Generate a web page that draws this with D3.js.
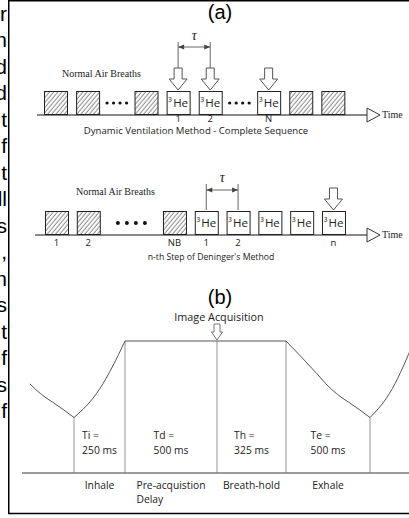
<!DOCTYPE html>
<html>
<head>
<meta charset="utf-8">
<script src="https://cdn.jsdelivr.net/npm/d3@7"></script>
<style>
  html, body { margin: 0; padding: 0; background: #fff; overflow: hidden; }
  svg { display: block; }
  .sans { font-family: "Open Sans", sans-serif; fill: #222; }
  .serif { font-family: "Liberation Serif", "Times New Roman", serif; fill: #222; }
  .big { font-family: "Liberation Sans", Arial, sans-serif; fill: #000; }
</style>
</head>
<body>
<div id="chart"></div>
<script>
// ---- data ----
const leftFragments = ["r", "n", "d", "d", "t", "f", "t", "ll", "s", ",", "n", "s", "t", "f", "s", "f"];
const panelLabels = ["(a)", "(b)"];

const seqComplete = ["air", "air", "dots", "air", "he", "he", "dots", "he", "air", "air"];
const seqCompleteLabels = ["", "", "", "", "1", "2", "", "N", "", ""];
const seqCompleteArrows = [4, 5, 7];
const seqCompleteTau = [4, 5];

const seqDeninger = ["air", "air", "dots", "air", "he", "he", "he", "he", "he"];
const seqDeningerLabels = ["1", "2", "", "NB", "1", "2", "", "", "n"];
const seqDeningerArrows = [8];
const seqDeningerTau = [4, 5];

const seqTitles = ["Dynamic Ventilation Method - Complete Sequence", "n-th Step of Deninger's Method"];
const breathsLabel = "Normal Air Breaths";

const phaseNames = [["Inhale"], ["Pre-acquistion", "Delay"], ["Breath-hold"], ["Exhale"]];
const phaseSymbols = ["Ti", "Td", "Th", "Te"];
const phaseMs = [250, 500, 325, 500];

// lung volume (0 = end exhale, 1 = full) against fraction of the phase
const inhaleT = [0, 0.37, 0.51, 0.75, 1];
const inhaleV = [0, 0.25, 0.38, 0.66, 1];
const exhaleT = [0, 0.37, 0.476, 0.55, 0.67, 0.76, 1];
const exhaleV = [1, 0.57, 0.44, 0.36, 0.255, 0.19, 0];

// ---- layout ----
const width = 409;
const height = 518;
const boxW = 23;
const boxH = 24;
const smallFont = 10.3;

const svg = d3.select("#chart")
  .append("svg")
  .attr("width", width)
  .attr("height", height);

const defs = svg.append("defs");
const hatch = defs.append("pattern")
  .attr("id", "hatch")
  .attr("patternUnits", "userSpaceOnUse")
  .attr("width", 3.2)
  .attr("height", 10)
  .attr("patternTransform", "rotate(40)");
hatch.append("line")
  .attr("x1", 1).attr("x2", 1).attr("y1", 0).attr("y2", 10)
  .attr("stroke", "#444")
  .attr("stroke-width", 0.7);

// frame + clipped text of the neighbouring column
svg.append("path")
  .attr("d", `M${width + 5},0.75 H8.75 V513.5 H${width + 5}`)
  .attr("fill", "none")
  .attr("stroke", "#000")
  .attr("stroke-width", 1.5);

const fragY = d3.scaleLinear().domain([0, leftFragments.length - 1]).range([21, 418]);
svg.selectAll(".frag")
  .data(leftFragments)
  .enter()
  .append("text")
  .attr("class", "big")
  .attr("x", 7)
  .attr("y", (d, i) => fragY(i))
  .attr("text-anchor", "end")
  .attr("font-size", 21)
  .text(d => d);

svg.selectAll(".panel")
  .data(panelLabels)
  .enter()
  .append("text")
  .attr("class", "big")
  .attr("x", 220)
  .attr("y", (d, i) => [19, 304][i])
  .attr("text-anchor", "middle")
  .attr("font-size", 20)
  .text(d => d);

function downArrow(cx, top, len, sw, hw, hl) {
  const p = d3.path();
  p.moveTo(cx - sw / 2, top);
  p.lineTo(cx + sw / 2, top);
  p.lineTo(cx + sw / 2, top + len - hl);
  p.lineTo(cx + hw / 2, top + len - hl);
  p.lineTo(cx, top + len);
  p.lineTo(cx - hw / 2, top + len - hl);
  p.lineTo(cx - sw / 2, top + len - hl);
  p.closePath();
  return p.toString();
}

// ---- (a) sequences ----
const rows = [
  { seq: seqComplete, labels: seqCompleteLabels, arrows: seqCompleteArrows, tau: seqCompleteTau,
    title: seqTitles[0], titleSize: 9.6, x0: 44, step: 32.1, dotsStep: 0.82, dotGap: 6.5, dotR: 1.6,
    base: 115, axisX0: 37, breathsX: 62, breathsY: 77, tauTop: 42, tauY: 47, tauTextY: 40,
    labelY: 122, titleX: 196, titleY: 134 },
  { seq: seqDeninger, labels: seqDeningerLabels, arrows: seqDeningerArrows, tau: seqDeningerTau,
    title: seqTitles[1], titleSize: 8.7, x0: 45, step: 31.8, dotsStep: 1.71, dotGap: 9, dotR: 2,
    base: 235, axisX0: 35, breathsX: 76, breathsY: 195, tauTop: 184, tauY: 190, tauTextY: 182,
    labelY: 246, titleX: 211, titleY: 260 }
];

rows.forEach(row => {
  const g = svg.append("g");
  const slot = d3.scaleLinear().domain([0, 1]).range([row.x0, row.x0 + row.step]);
  let u = 0;
  const items = row.seq.map((kind, i) => {
    const it = { kind, label: row.labels[i], u };
    u += kind === "dots" ? row.dotsStep : 1;
    return it;
  });
  items.forEach(it => {
    it.x = slot(it.u);
    it.cx = it.x + boxW / 2;
  });
  const top = row.base - boxH;

  // time axis
  g.append("line")
    .attr("x1", row.axisX0).attr("x2", 367)
    .attr("y1", row.base).attr("y2", row.base)
    .attr("stroke", "#888").attr("stroke-width", 2);
  g.append("path")
    .attr("d", `M367,${row.base - 7} L380,${row.base} L367,${row.base + 7} Z`)
    .attr("fill", "#fff").attr("stroke", "#333").attr("stroke-width", 1);
  g.append("text")
    .attr("class", "serif")
    .attr("x", 382).attr("y", row.base + 3)
    .attr("font-size", 10)
    .text("Time");

  const boxes = items.filter(d => d.kind !== "dots");
  g.selectAll(".box")
    .data(boxes)
    .enter()
    .append("rect")
    .attr("x", d => d.x + 0.5)
    .attr("y", top + 0.5)
    .attr("width", boxW)
    .attr("height", boxH - 1)
    .attr("fill", d => d.kind === "air" ? "url(#hatch)" : "#fff")
    .attr("stroke", "#222")
    .attr("stroke-width", 1);

  const he = g.selectAll(".he")
    .data(boxes.filter(d => d.kind === "he"))
    .enter()
    .append("text")
    .attr("class", "sans")
    .attr("x", d => d.x + 1.5)
    .attr("y", top + 16);
  he.append("tspan").attr("font-size", 7).attr("dy", -5).text("3");
  he.append("tspan").attr("font-size", 11.5).attr("dy", 5).attr("dx", 1).text("He");

  // dots between boxes
  items.forEach((it, i) => {
    if (it.kind !== "dots") return;
    const prevEnd = items[i - 1].x + boxW;
    const next = items[i + 1].x;
    const mid = (prevEnd + next) / 2;
    g.selectAll(null)
      .data(d3.range(4))
      .enter()
      .append("circle")
      .attr("cx", k => mid + (k - 1.5) * row.dotGap)
      .attr("cy", top + boxH / 2)
      .attr("r", row.dotR)
      .attr("fill", "#111");
  });

  g.selectAll(".lbl")
    .data(items.filter(d => d.label))
    .enter()
    .append("text")
    .attr("class", "sans")
    .attr("x", d => d.cx)
    .attr("y", row.labelY)
    .attr("text-anchor", "middle")
    .attr("font-size", 9.5)
    .text(d => d.label);

  g.append("text")
    .attr("class", "sans")
    .attr("x", row.titleX)
    .attr("y", row.titleY)
    .attr("text-anchor", "middle")
    .attr("font-size", row.titleSize)
    .text(row.title);

  g.append("text")
    .attr("class", "serif")
    .attr("x", row.breathsX)
    .attr("y", row.breathsY)
    .attr("font-size", 10)
    .text(breathsLabel);

  // acquisition arrows
  const arrowTop = top - 1 - 22;
  g.selectAll(".arr")
    .data(row.arrows.map(i => items[i]))
    .enter()
    .append("path")
    .attr("d", d => downArrow(d.cx, arrowTop, 22, 8, 18, 11))
    .attr("fill", "#fff")
    .attr("stroke", "#555")
    .attr("stroke-width", 1);

  // tau bracket
  const t0 = items[row.tau[0]].cx;
  const t1 = items[row.tau[1]].cx;
  const hasArrow = row.arrows.includes(row.tau[0]);
  const tauBottom = hasArrow ? arrowTop : top - 1;
  [t0, t1].forEach(tx => {
    g.append("line")
      .attr("x1", tx).attr("x2", tx)
      .attr("y1", row.tauTop).attr("y2", tauBottom)
      .attr("stroke", "#666").attr("stroke-width", 1);
  });
  g.append("line")
    .attr("x1", t0).attr("x2", t1)
    .attr("y1", row.tauY).attr("y2", row.tauY)
    .attr("stroke", "#666").attr("stroke-width", 1);
  g.append("path")
    .attr("d", `M${t0},${row.tauY} l6,-2.5 v5 Z M${t1},${row.tauY} l-6,-2.5 v5 Z`)
    .attr("fill", "#444");
  g.append("text")
    .attr("class", "serif")
    .attr("x", (t0 + t1) / 2)
    .attr("y", row.tauTextY)
    .attr("text-anchor", "middle")
    .attr("font-size", 14)
    .attr("font-style", "italic")
    .text("τ");
});

// ---- (b) breathing manoeuvre ----
const bounds = [0];
phaseMs.forEach(ms => bounds.push(bounds[bounds.length - 1] + ms));
const total = bounds[bounds.length - 1];

const x = d3.scaleLinear()
  .domain([-phaseMs[3], ...bounds, total + phaseMs[0]])
  .range([-10, 74, 125, 217, 286, 370, 414]);
const y = d3.scaleLinear().domain([0, 1]).range([417.5, 341]);
const baseY = 473;

const pts = (T, V, t0, dur) => T.map((f, i) => ({ t: t0 + f * dur, v: V[i] }));
const segments = [
  pts(exhaleT.slice(2), exhaleV.slice(2), -phaseMs[3], phaseMs[3]),
  pts(inhaleT, inhaleV, bounds[0], phaseMs[0]),
  [{ t: bounds[1], v: 1 }, { t: bounds[3], v: 1 }],
  pts(exhaleT, exhaleV, bounds[3], phaseMs[3]),
  pts(inhaleT, inhaleV, total, phaseMs[0])
];

const line = d3.line()
  .x(d => x(d.t))
  .y(d => y(d.v))
  .curve(d3.curveMonotoneX);

const gb = svg.append("g");

// phase boundaries
const levelAt = [0, 1, 1, 1, 0];
gb.selectAll(".bound")
  .data(bounds)
  .enter()
  .append("line")
  .attr("x1", d => x(d)).attr("x2", d => x(d))
  .attr("y1", (d, i) => y(levelAt[i]))
  .attr("y2", baseY)
  .attr("stroke", "#b8b8b8")
  .attr("stroke-width", 1.5);

gb.append("line")
  .attr("x1", 22).attr("x2", width)
  .attr("y1", baseY).attr("y2", baseY)
  .attr("stroke", "#7a7a7a")
  .attr("stroke-width", 1.5);

gb.selectAll(".seg")
  .data(segments)
  .enter()
  .append("path")
  .attr("d", line)
  .attr("fill", "none")
  .attr("stroke", "#555")
  .attr("stroke-width", 1);

// image acquisition marker
const acqX = x(bounds[2]);
gb.append("path")
  .attr("d", downArrow(acqX, y(1) - 17, 16, 6, 11, 8))
  .attr("fill", "#fff")
  .attr("stroke", "#777")
  .attr("stroke-width", 1);
gb.append("text")
  .attr("class", "sans")
  .attr("x", acqX + 2)
  .attr("y", 321)
  .attr("text-anchor", "middle")
  .attr("font-size", 10.8)
  .text("Image Acquisition");

// phase texts
phaseMs.forEach((ms, i) => {
  const cx = (x(bounds[i]) + x(bounds[i + 1])) / 2;
  const val = gb.append("text").attr("class", "sans").attr("font-size", smallFont);
  val.append("tspan").attr("y", 439).text(`${phaseSymbols[i]} =`);
  val.append("tspan").attr("y", 454).text(`${ms} ms`);
  const w = val.select("tspan:last-child").node().getComputedTextLength();
  val.selectAll("tspan").attr("x", cx - w / 2);

  const nm = gb.append("text").attr("class", "sans").attr("font-size", smallFont);
  nm.selectAll("tspan")
    .data(phaseNames[i])
    .enter()
    .append("tspan")
    .attr("y", (d, k) => 489 + k * 14)
    .text(d => d);
  const w2 = nm.select("tspan").node().getComputedTextLength();
  nm.selectAll("tspan").attr("x", cx - w2 / 2);
});
</script>
</body>
</html>
